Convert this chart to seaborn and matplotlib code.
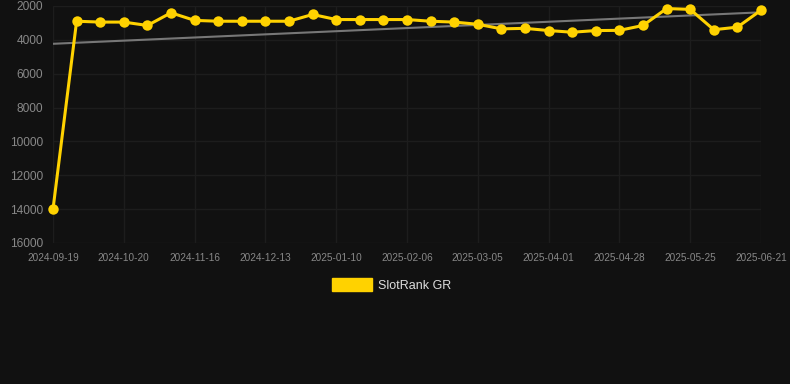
import numpy as np
import matplotlib.pyplot as plt
import seaborn as sns
import pandas as pd
from matplotlib.patches import Patch

# Rank values (one point per sample, lower = better)
ranks = [14000, 2900, 2950, 2950, 3150, 2400, 2850, 2900, 2900, 2900, 2900,
         2500, 2800, 2800, 2800, 2800, 2900, 2950, 3080, 3350, 3320, 3450,
         3550, 3450, 3440, 3150, 2150, 2200, 3400, 3250, 2250]
# Tick labels shown on the x axis (every third sample)
tick_labels = ['2024-09-19', '2024-10-20', '2024-11-16', '2024-12-13', '2025-01-10',
               '2025-02-06', '2025-03-05', '2025-04-01', '2025-04-28', '2025-05-25',
               '2025-06-21']
y_ticks = [2000, 4000, 6000, 8000, 10000, 12000, 14000, 16000]
series_name = 'SlotRank GR'

df = pd.DataFrame({'idx': np.arange(len(ranks)), 'rank': ranks})

bg = '#111111'
sns.set_style('dark', {'axes.facecolor': bg, 'figure.facecolor': bg,
                       'grid.color': '#1d1d1d', 'axes.edgecolor': bg})
plt.rcParams['font.family'] = ['Liberation Sans', 'DejaVu Sans']

fig = plt.figure(figsize=(7.9, 3.84), dpi=100)
ax = fig.add_axes([53 / 790, 1 - 243 / 384, (761 - 53) / 790, (243 - 6) / 384])

# Trend line (linear fit of the data)
sns.regplot(data=df, x='idx', y='rank', ax=ax, scatter=False, ci=None, truncate=True,
            line_kws={'color': '#777777', 'linewidth': 1.5})

sns.lineplot(data=df, x='idx', y='rank', ax=ax, color='#FFD200', linewidth=2.2,
             marker='o', markersize=7.5, markeredgewidth=0, clip_on=False)

ax.set_xlim(0, len(ranks) - 1)
ax.set_ylim(16000, 2000)
ax.set_yticks(y_ticks)
ax.set_yticklabels([str(v) for v in y_ticks], fontsize=8.6, color='#888888')
ax.set_xticks(np.arange(0, len(ranks), 3))
ax.set_xticklabels(tick_labels, fontsize=7.2, color='#888888')
ax.tick_params(axis='both', length=0, pad=7)
ax.grid(True, color='#1d1d1d', linewidth=1)
ax.set_xlabel('')
ax.set_ylabel('')
for s in ax.spines.values():
    s.set_visible(False)

# Legend below the plot
handle = Patch(facecolor='#FFD200', edgecolor='#FFD200')
fig.legend([handle], [series_name], loc='center', bbox_to_anchor=(392 / 790, 1 - 285 / 384),
           frameon=False, fontsize=9, labelcolor='#dddddd',
           handlelength=3.2, handleheight=1.15, handletextpad=0.5)

fig.savefig('out.png', dpi=100, facecolor=bg)
